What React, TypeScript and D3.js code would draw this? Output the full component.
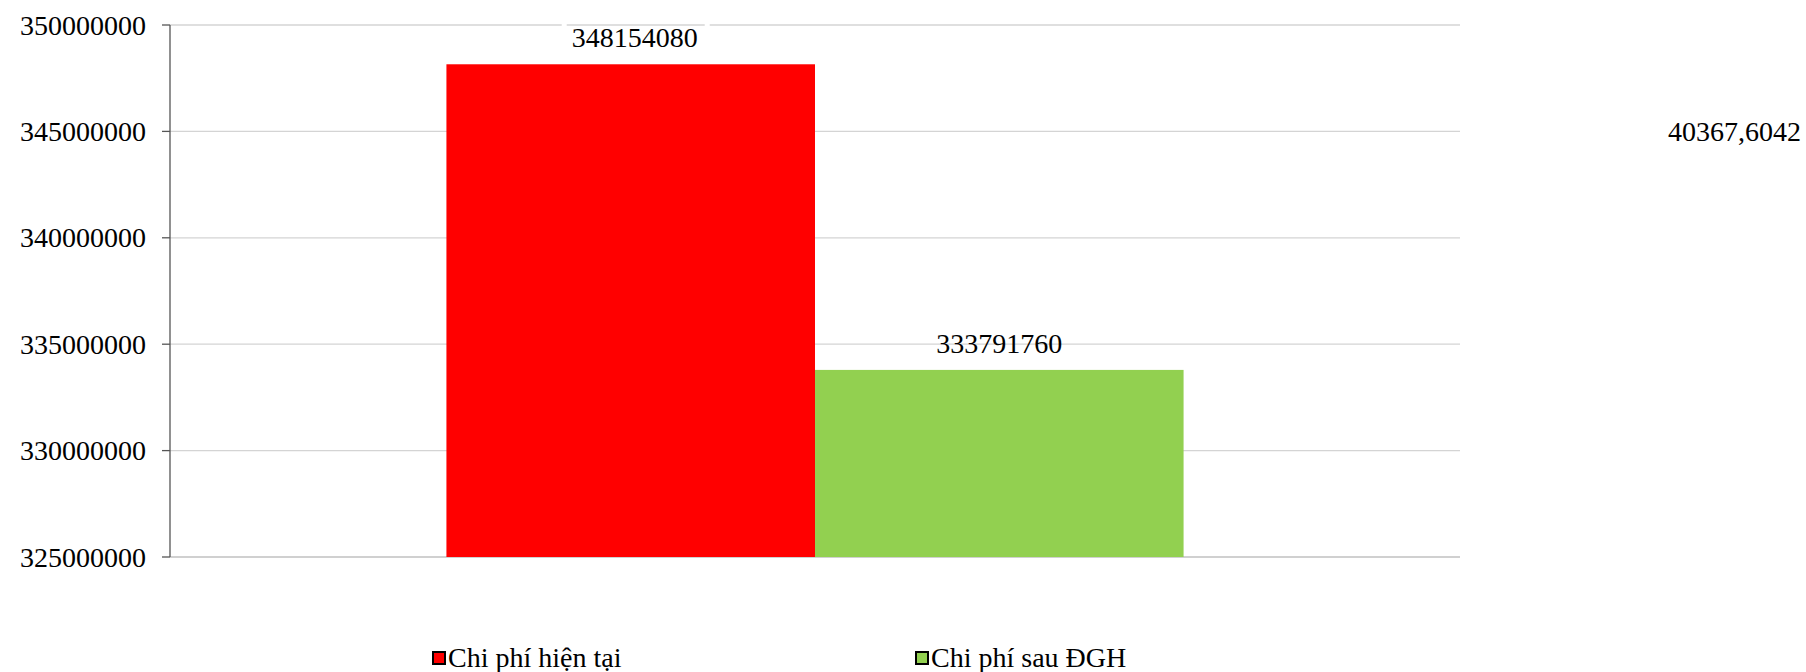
import React from 'react';
import * as d3 from 'd3';

// chart data
const categories = ['Chi phí hiện tại', 'Chi phí sau ĐGH'];
const values = [348154080, 333791760];
const colors = ['#ff0000', '#92d050'];
const yTicks = [325000000, 330000000, 335000000, 340000000, 345000000, 350000000];
const strayLabel = '40367,6042';

const W = 1806, H = 672;
const FONT = "'Liberation Serif', 'Times New Roman', Times, 'DejaVu Serif', serif";

export default function App() {
  const left = 170, right = 1460, top = 25, bottom = 557;

  const y = d3.scaleLinear().domain([325000000, 350000000]).range([bottom, top]);
  // one category group, two series side by side (gap width ~150%)
  const group = d3.scaleBand().domain(['g']).range([left, right]).paddingInner(0).paddingOuter(0.375);
  const inner = d3.scaleBand().domain(categories).range([group('g')!, group('g')! + group.bandwidth()]);

  return (
    <svg width={W} height={H} style={{ position: 'absolute', left: 0, top: 0, background: '#fff', fontFamily: FONT }}>
      {/* gridlines */}
      {yTicks.map(t => (
        <line key={t} x1={left} x2={right} y1={y(t)} y2={y(t)}
          stroke={t === yTicks[0] ? '#d0d0d0' : '#d4d4d4'} strokeWidth={t === yTicks[0] ? 2 : 1.3} />
      ))}
      {/* axis */}
      <line x1={left} x2={left} y1={top} y2={bottom} stroke="#555" strokeWidth={1.3} />
      {yTicks.map(t => (
        <g key={'t' + t}>
          <line x1={left - 8} x2={left} y1={y(t)} y2={y(t)} stroke="#555" strokeWidth={1.3} />
          <text x={146} y={y(t) + 9.5} textAnchor="end" fontSize={28} fill="#000">{t}</text>
        </g>
      ))}
      {/* bars */}
      {categories.map((c, i) => (
        <rect key={c} x={inner(c)} y={y(values[i])} width={inner.bandwidth()}
          height={bottom - y(values[i])} fill={colors[i]} />
      ))}
      {/* data labels */}
      {categories.map((c, i) => {
        const cx = inner(c)! + inner.bandwidth() / 2 + (i === 0 ? 4 : 0);
        const by = y(values[i]) - 17;
        return (
          <g key={'l' + c}>
            {i === 0 && (
              <>
                <rect x={cx - 73} y={y(350000000) - 2} width={148} height={5} fill="#fff" />
                <line x1={cx - 68} x2={cx + 70} y1={y(350000000)} y2={y(350000000)} stroke="#d4d4d4" strokeWidth={1.3} />
              </>
            )}
            <text x={cx} y={by} textAnchor="middle" fontSize={28} fill="#000">{values[i]}</text>
          </g>
        );
      })}
      <text x={1801} y={141} textAnchor="end" fontSize={28} fill="#000">{strayLabel}</text>
      {/* legend */}
      {categories.map((c, i) => {
        const lx = i === 0 ? 433 : 916;
        return (
          <g key={'lg' + c}>
            <rect x={lx} y={652} width={12} height={12} fill={colors[i]} stroke="#000" strokeWidth={2} />
            <text x={lx + 15} y={667} fontSize={28} fill="#000">{c}</text>
          </g>
        );
      })}
    </svg>
  );
}
